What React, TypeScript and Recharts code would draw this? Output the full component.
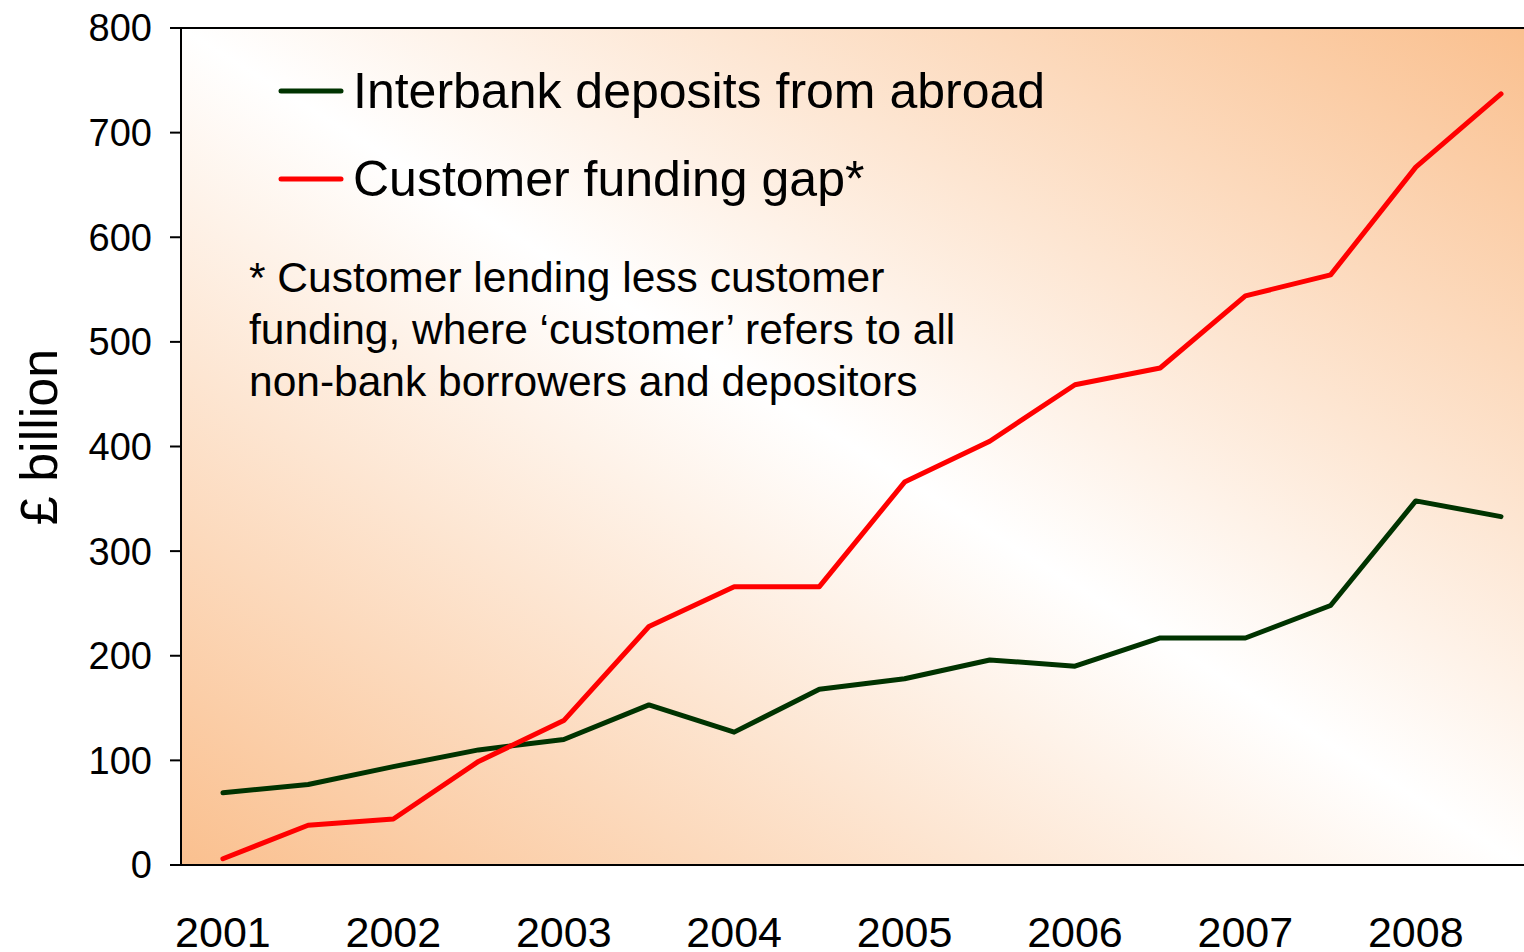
import React from 'react';
import { LineChart, Line, XAxis, YAxis, CartesianGrid, Legend, ReferenceLine, Label } from 'recharts';

const periods = [2001, 2001.5, 2002, 2002.5, 2003, 2003.5, 2004, 2004.5, 2005, 2005.5, 2006, 2006.5, 2007, 2007.5, 2008, 2008.5];
const interbank = [69, 77, 94, 110, 120, 153, 127, 168, 178, 196, 190, 217, 217, 248, 348, 333];
const fundingGap = [6, 38, 44, 99, 138, 228, 266, 266, 366, 405, 459, 475, 544, 564, 667, 737];
const yearTicks = [2001, 2002, 2003, 2004, 2005, 2006, 2007, 2008];
const valueTicks = [0, 100, 200, 300, 400, 500, 600, 700, 800];
const seriesNames = ['Interbank deposits from abroad', 'Customer funding gap*'];
const footnoteLines = [
  '* Customer lending less customer',
  'funding, where \u2018customer\u2019 refers to all',
  'non-bank borrowers and depositors',
];

const data = periods.map((p, i) => ({ period: p, interbank: interbank[i], gap: fundingGap[i] }));

const FONT = 'Arial, "Liberation Sans", sans-serif';

const LegendContent = (props: any) => {
  const { payload = [] } = props;
  const ordered = [...payload].sort((a: any, b: any) => seriesNames.indexOf(a.value) - seriesNames.indexOf(b.value));
  return (
    <div style={{ fontFamily: FONT }}>
      {ordered.map((entry: any, i: number) => (
        <div key={i} style={{ display: 'flex', alignItems: 'center', height: 88 }}>
          <svg width={70} height={10} style={{ marginRight: 5 }}>
            <line x1={3} y1={5} x2={63} y2={5} stroke={entry.color} strokeWidth={5} strokeLinecap="round" />
          </svg>
          <span style={{ fontSize: 50, color: '#000', whiteSpace: 'nowrap' }}>{entry.value}</span>
        </div>
      ))}
    </div>
  );
};

const YLabel = () => {
  const cy = 437;
  const cx = 39;
  return (
    <text x={cx} y={cy} transform={`rotate(-90 ${cx} ${cy})`} textAnchor="middle" dominantBaseline="central" fontSize={52} fontFamily={FONT} fill="#000">
      £ billion
    </text>
  );
};

export default function App() {
  return (
    <div style={{ position: 'absolute', left: 0, top: 0, width: 1524, height: 952, background: '#fff' }}>
      <LineChart width={1524} height={952} data={data} margin={{ top: 28, right: 0, bottom: 0, left: 0 }}>
        <defs>
          <linearGradient id="bg" x1="0" y1="1" x2="1" y2="0">
            <stop offset="0" stopColor="#FAC08F" />
            <stop offset="0.5" stopColor="#FFFFFF" />
            <stop offset="1" stopColor="#FAC08F" />
          </linearGradient>
        </defs>
        <CartesianGrid horizontal={false} vertical={false} fill="url(#bg)" stroke="none" />
        <XAxis
          dataKey="period"
          type="number"
          domain={[2000.754, 2008.635]}
          allowDataOverflow
          ticks={yearTicks}
          height={87}
          tickLine={false}
          tickSize={0}
          tickMargin={51}
          axisLine={{ stroke: '#000', strokeWidth: 2 }}
          tick={{ fill: '#000', fontSize: 43, fontFamily: FONT }}
        />
        <YAxis
          type="number"
          domain={[0, 800]}
          ticks={valueTicks}
          width={181}
          tickSize={11}
          tickMargin={18}
          axisLine={{ stroke: '#000', strokeWidth: 2 }}
          tickLine={{ stroke: '#000', strokeWidth: 2 }}
          tick={{ fill: '#000', fontSize: 38, fontFamily: FONT }}
        >
          <Label content={<YLabel />} />
        </YAxis>
        <ReferenceLine y={800} stroke="#000" strokeWidth={2} />
        <Line dataKey="interbank" name={seriesNames[0]} stroke="#003300" strokeWidth={5} dot={false} isAnimationActive={false} strokeLinejoin="round" strokeLinecap="round" />
        <Line dataKey="gap" name={seriesNames[1]} stroke="#FF0000" strokeWidth={5} dot={false} isAnimationActive={false} strokeLinejoin="round" strokeLinecap="round" />
        <Legend
          layout="vertical"
          align="center"
          verticalAlign="middle"
          content={<LegendContent />}
          wrapperStyle={{ position: 'absolute', left: 278, top: 47, width: 'auto' }}
        />
      </LineChart>
      <div style={{ position: 'absolute', left: 249, top: 252, fontFamily: FONT, fontSize: 42.5, lineHeight: '52px', color: '#000', whiteSpace: 'nowrap' }}>
        {footnoteLines.map((l, i) => (
          <div key={i}>{l}</div>
        ))}
      </div>
    </div>
  );
}
